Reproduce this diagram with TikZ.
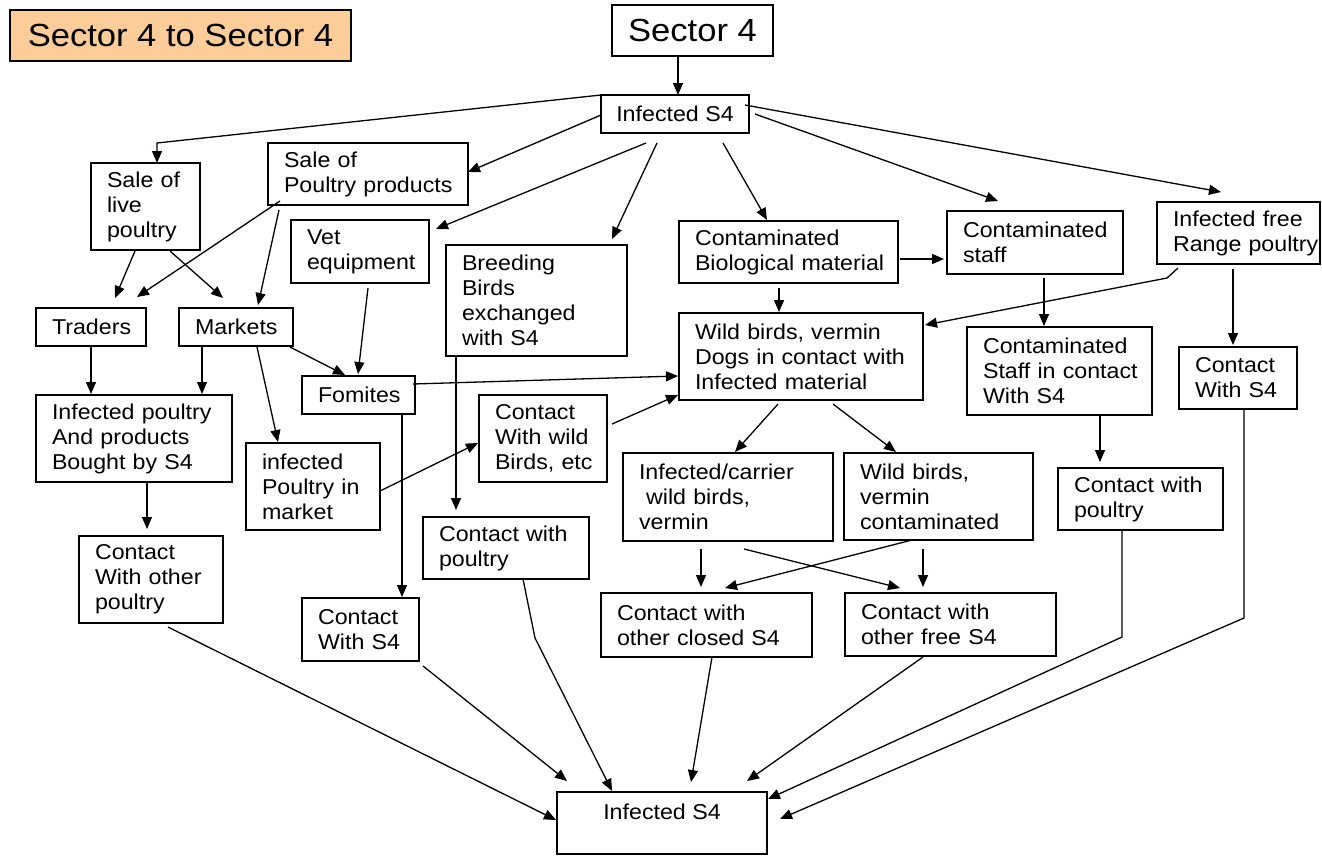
\documentclass[tikz,border=0pt]{standalone}
\usepackage{fontspec}
\setmainfont{Liberation Sans}[FakeStretch=1.08]
\usetikzlibrary{arrows.meta}
\newcommand\nodefont{\fontsize{21.5}{25}\selectfont}
\newcommand\bigfont{\fontsize{32}{38}\selectfont}
\definecolor{peach}{RGB}{252,204,153}
\tikzset{
 box/.style={draw=black, line width=1.2pt, outer sep=0pt, inner xsep=16pt, inner ysep=0pt, align=left, anchor=north west, font=\nodefont},
 cbox/.style={draw=black, line width=1.2pt, outer sep=0pt, inner sep=0pt, align=center, anchor=north west},
 arr/.style={line width=1.3pt, -{Triangle[length=12pt,width=10pt]}},
}
\begin{document}
\begin{tikzpicture}[x=1pt,y=-1pt]
\useasboundingbox (0,0) rectangle (1322,855);
% nodes
\node[cbox, fill=peach, minimum width=341pt, minimum height=51pt, font=\bigfont] (title) at (10,10) {Sector 4 to Sector 4};
\node[cbox, minimum width=161pt, minimum height=51pt, font=\bigfont] (sec4) at (612,5) {Sector 4};
\node[cbox, minimum width=148pt, minimum height=38pt, font=\nodefont] (inf) at (601,95) {Infected S4};
\node[box, text width=77pt, minimum height=87pt] (slp) at (91,163) {\mbox{Sale of}\\live\\poultry};
\node[box, text width=168pt, minimum height=62pt] (spp) at (268,143) {\mbox{Sale of}\\\mbox{Poultry products}};
\node[box, text width=106pt, minimum height=63pt] (vet) at (291,220) {Vet\\equipment};
\node[box, text width=149pt, minimum height=111pt] (breed) at (446,245) {Breeding\\Birds\\exchanged\\\mbox{with S4}};
\node[box, text width=187pt, minimum height=62pt] (cbio) at (679,221) {Contaminated\\\mbox{Biological material}};
\node[box, text width=144pt, minimum height=63pt] (cstaff) at (947,211) {Contaminated\\staff};
\node[box, text width=131pt, minimum height=62pt] (ifr) at (1157,202) {\mbox{Infected free}\\\mbox{Range poultry}};
\node[box, text width=212pt, minimum height=87pt] (wild) at (679,313) {\mbox{Wild birds, vermin}\\\mbox{Dogs in contact with}\\\mbox{Infected material}};
\node[box, text width=153pt, minimum height=88pt] (csc) at (967,327) {Contaminated\\\mbox{Staff in contact}\\\mbox{With S4}};
\node[box, text width=86pt, minimum height=62pt] (cws4r) at (1179,347) {Contact\\\mbox{With S4}};
\node[box, text width=78pt, minimum height=38pt] (traders) at (36,308) {Traders};
\node[box, text width=82pt, minimum height=38pt] (markets) at (179,308) {Markets};
\node[box, text width=81pt, minimum height=38pt] (fomites) at (302,376) {Fomites};
\node[box, text width=164pt, minimum height=87pt] (ipb) at (36,395) {\mbox{Infected poultry}\\\mbox{And products}\\\mbox{Bought by S4}};
\node[box, text width=102pt, minimum height=87pt] (ipm) at (246,443) {infected\\\mbox{Poultry in}\\market};
\node[box, text width=112pt, minimum height=87pt] (cwo) at (79,536) {Contact\\\mbox{With other}\\poultry};
\node[box, text width=85pt, minimum height=63pt] (cws4l) at (302,598) {Contact\\\mbox{With S4}};
\node[box, text width=96pt, minimum height=87pt] (cwb) at (479,395) {Contact\\\mbox{With wild}\\\mbox{Birds, etc}};
\node[box, text width=134pt, minimum height=62pt] (cwp) at (423,517) {\mbox{Contact with}\\poultry};
\node[box, text width=178pt, minimum height=88pt] (icw) at (623,453) {Infected/carrier\\\mbox{\ wild birds,}\\vermin};
\node[box, text width=157pt, minimum height=87pt] (wbc) at (844,453) {\mbox{Wild birds,}\\vermin\\contaminated};
\node[box, text width=179pt, minimum height=64pt] (cco) at (601,593) {\mbox{Contact with}\\\mbox{other closed S4}};
\node[box, text width=179pt, minimum height=63pt] (cof) at (845,593) {\mbox{Contact with}\\\mbox{other free S4}};
\node[box, text width=133pt, minimum height=62pt] (cwpr) at (1058,468) {\mbox{Contact with}\\poultry};
\node[cbox, minimum width=210pt, text height=27pt, text depth=35pt, font=\nodefont] (infb) at (557,792) {Infected S4};
% connectors
\draw[arr] ([shift={(66,51)}]sec4.north west) -- ([shift={(77,0)}]inf.north west);
\draw[arr] (inf.north west) -- ([shift={(66,-20)}]slp.north west) -- ([shift={(66,0)}]slp.north west);
\draw[arr] ([shift={(0,20)}]inf.north west) -- ([shift={(200,29)}]spp.north west);
\draw[arr] ([shift={(45,48)}]inf.north west) -- ([shift={(145,9)}]vet.north west);
\draw[arr] ([shift={(56,48)}]inf.north west) -- ([shift={(166,-6)}]breed.north west);
\draw[arr] ([shift={(122,48)}]inf.north west) -- ([shift={(88,-1)}]cbio.north west);
\draw[arr] ([shift={(154,19)}]inf.north west) -- ([shift={(51,-10)}]cstaff.north west);
\draw[arr] ([shift={(144,10)}]inf.north west) -- ([shift={(64,-10)}]ifr.north west);
\draw[arr] ([shift={(44,88)}]slp.north west) -- ([shift={(79,-10)}]traders.north west);
\draw[arr] ([shift={(12,58)}]spp.north west) -- ([shift={(101,-11)}]traders.north west);
\draw[arr] ([shift={(79,88)}]slp.north west) -- ([shift={(44,-10)}]markets.north west);
\draw[arr] ([shift={(11,67)}]spp.north west) -- ([shift={(79,-3)}]markets.north west);
\draw[arr] ([shift={(77,68)}]vet.north west) -- ([shift={(56,-2)}]fomites.north west);
\draw[arr] ([shift={(111,39)}]markets.north west) -- ([shift={(43,-1)}]fomites.north west);
\draw[arr] ([shift={(78,39)}]markets.north west) -- ([shift={(32,-1)}]ipm.north west);
\draw[arr] ([shift={(55,38)}]traders.north west) -- ([shift={(55,-1)}]ipb.north west);
\draw[arr] ([shift={(23,38)}]markets.north west) -- ([shift={(166,-1)}]ipb.north west);
\draw[arr] ([shift={(111,87)}]ipb.north west) -- ([shift={(68,-7)}]cwo.north west);
\draw[arr] ([shift={(134,48)}]ipm.north west) -- ([shift={(-1,48)}]cwb.north west);
\draw[arr] ([shift={(111,8)}]fomites.north west) -- ([shift={(-1,63)}]wild.north west);
\draw[arr] ([shift={(100,38)}]fomites.north west) -- ([shift={(100,-1)}]cws4l.north west);
\draw[arr] ([shift={(133,29)}]cwb.north west) -- ([shift={(-1,82)}]wild.north west);
\draw[arr] ([shift={(10,111)}]breed.north west) -- ([shift={(33,-7)}]cwp.north west);
\draw[arr] ([shift={(100,67)}]cbio.north west) -- ([shift={(100,-1)}]wild.north west);
\draw[arr] ([shift={(221,38)}]cbio.north west) -- ([shift={(-3,48)}]cstaff.north west);
\draw[arr] ([shift={(21,66)}]ifr.north west) -- ([shift={(10,76)}]ifr.north west) -- ([shift={(246,12)}]wild.north west);
\draw[arr] ([shift={(97,67)}]cstaff.north west) -- ([shift={(77,-1)}]csc.north west);
\draw[arr] ([shift={(76,67)}]ifr.north west) -- ([shift={(54,-2)}]cws4r.north west);
\draw[arr] ([shift={(99,91)}]wild.north west) -- ([shift={(112,-1)}]icw.north west);
\draw[arr] ([shift={(154,91)}]wild.north west) -- ([shift={(52,-1)}]wbc.north west);
\draw[arr] ([shift={(133,88)}]csc.north west) -- ([shift={(42,-6)}]cwpr.north west);
\draw[arr] ([shift={(78,96)}]icw.north west) -- ([shift={(100,-6)}]cco.north west);
\draw[arr] ([shift={(79,96)}]wbc.north west) -- ([shift={(78,-6)}]cof.north west);
\draw[arr] ([shift={(121,96)}]icw.north west) -- ([shift={(55,-5)}]cof.north west);
\draw[arr] ([shift={(68,87)}]wbc.north west) -- ([shift={(124,-5)}]cco.north west);
\draw[arr] ([shift={(64,62)}]cwpr.north west) -- ([shift={(64,169)}]cwpr.north west) -- ([shift={(211,7)}]infb.north west);
\draw[arr] ([shift={(65,62)}]cws4r.north west) -- ([shift={(65,271)}]cws4r.north west) -- ([shift={(223,27)}]infb.north west);
\draw[arr] ([shift={(78,64)}]cof.north west) -- ([shift={(190,-11)}]infb.north west);
\draw[arr] ([shift={(111,64)}]cco.north west) -- ([shift={(134,-10)}]infb.north west);
\draw[arr] ([shift={(100,62)}]cwp.north west) -- ([shift={(112,121)}]cwp.north west) -- ([shift={(55,-1)}]infb.north west);
\draw[arr] ([shift={(121,68)}]cws4l.north west) -- ([shift={(10,-11)}]infb.north west);
\draw[arr] ([shift={(89,91)}]cwo.north west) -- ([shift={(-1,28)}]infb.north west);
\end{tikzpicture}
\end{document}
